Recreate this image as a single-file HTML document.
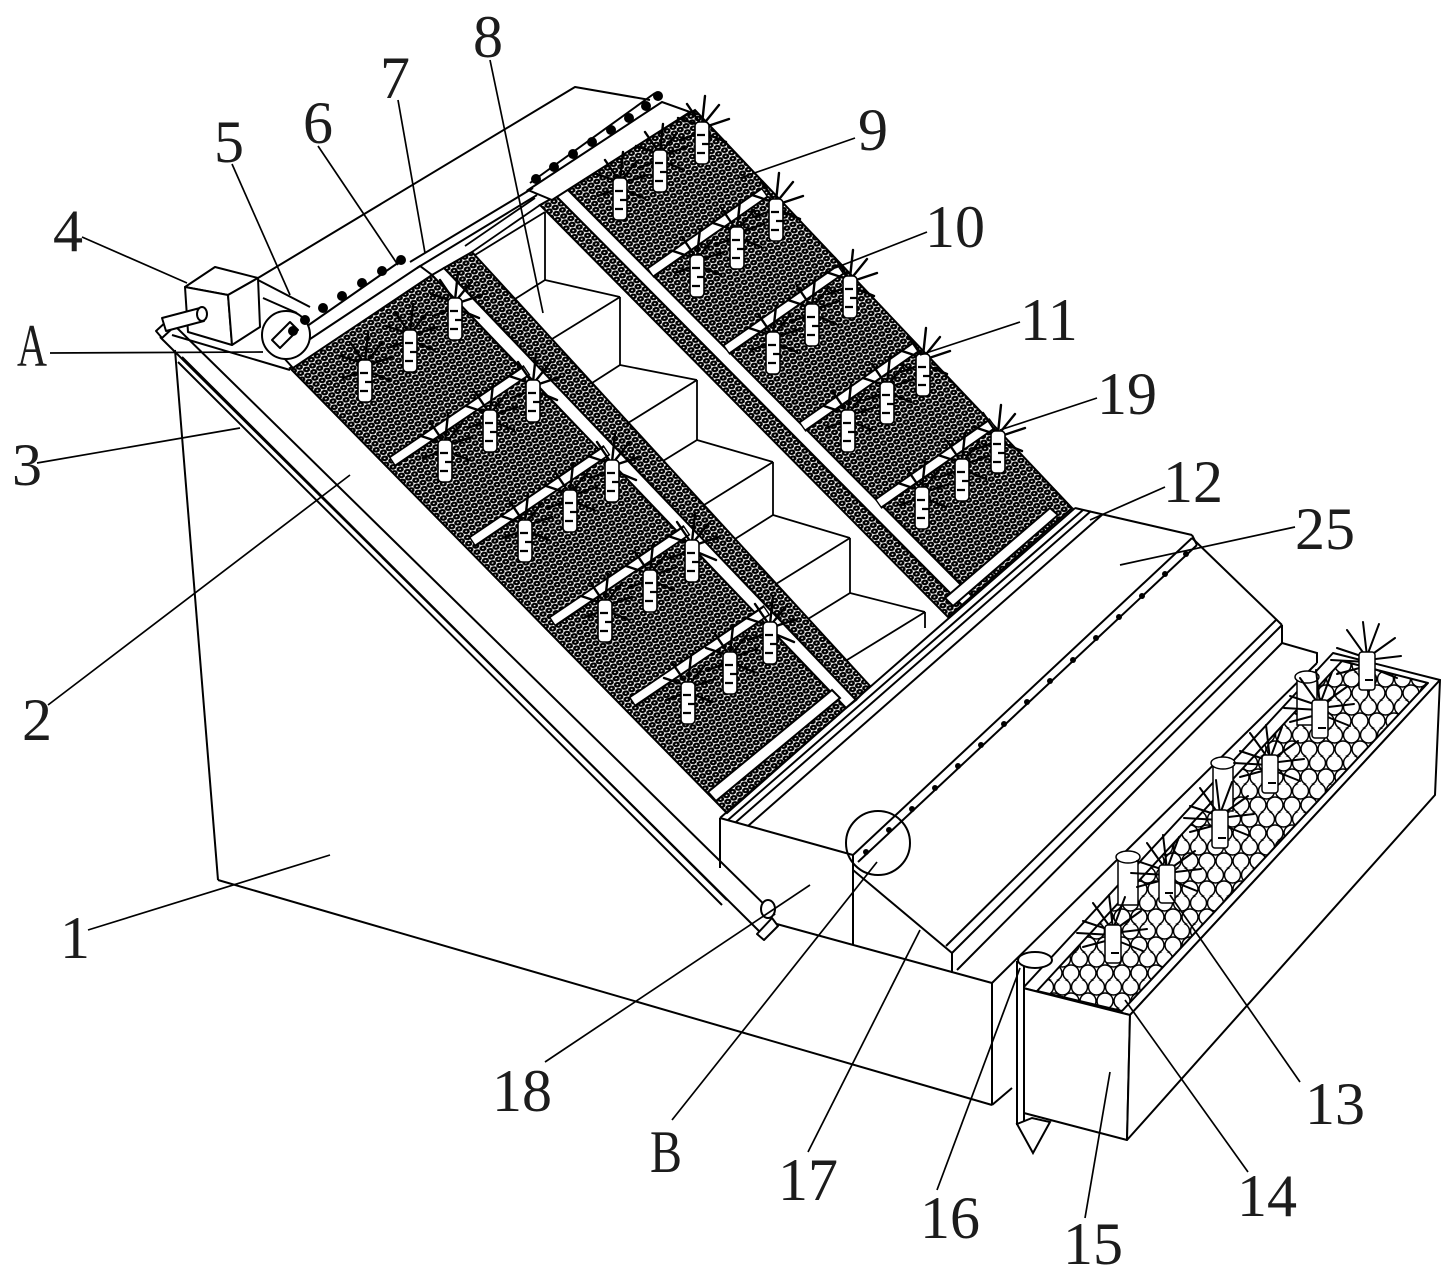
<!DOCTYPE html>
<html><head><meta charset="utf-8"><style>
html,body{margin:0;padding:0;background:#fff;}
svg{display:block;}
text{font-family:"Liberation Serif","DejaVu Serif",serif;font-size:60px;fill:#1c1c1c;}
</style></head><body>
<svg width="1451" height="1278" viewBox="0 0 1451 1278" xmlns="http://www.w3.org/2000/svg">
<defs>
<pattern id="gv" width="7" height="12" patternUnits="userSpaceOnUse" patternTransform="matrix(0.85,-0.53,0.7,0.71,0,0)">
<rect width="7" height="12" fill="#fff"/>
<ellipse cx="3.5" cy="3" rx="2.2" ry="1.9" fill="none" stroke="#000" stroke-width="2.4"/>
<ellipse cx="0" cy="9" rx="2.2" ry="1.9" fill="none" stroke="#000" stroke-width="2.4"/>
<ellipse cx="7" cy="9" rx="2.2" ry="1.9" fill="none" stroke="#000" stroke-width="2.4"/>
</pattern>
<pattern id="st" width="17" height="28" patternUnits="userSpaceOnUse">
<rect width="17" height="28" fill="#fff"/>
<circle cx="8.5" cy="7" r="8" fill="none" stroke="#000" stroke-width="1.5"/>
<circle cx="0" cy="21" r="8" fill="none" stroke="#000" stroke-width="1.5"/>
<circle cx="17" cy="21" r="8" fill="none" stroke="#000" stroke-width="1.5"/>
</pattern>
<g id="pl">
<path d="M0 4 L-24 -4 M0 4 L-15 -18 M0 2 L3 -26 M0 4 L17 -17 M0 6 L27 -3 M0 10 L-22 18 M0 10 L24 20" stroke="#000" stroke-width="2.4" stroke-linecap="round" fill="none"/>
<rect x="-7" y="0" width="14" height="42" rx="4" fill="#fff" stroke="#000" stroke-width="1.6"/>
<path d="M-5 13h8 M0 22h7 M-5 31h8" stroke="#000" stroke-width="2.2"/>
</g>
<g id="pp">
<path d="M0 6 L-30 -4 M0 6 L-20 -22 M0 4 L-4 -30 M0 4 L12 -28 M0 6 L28 -14 M0 8 L34 4 M0 14 L-30 22 M0 14 L30 26 M0 10 L-36 8" stroke="#000" stroke-width="2" stroke-linecap="round" fill="none"/>
<rect x="-8" y="0" width="16" height="38" rx="3" fill="#fff" stroke="#000" stroke-width="1.5"/>
<path d="M-2 28h8" stroke="#000" stroke-width="2"/>
</g>
<g id="pc">
<rect x="-10" y="0" width="20" height="48" fill="#fff" stroke="#000" stroke-width="1.5"/>
<ellipse cx="0" cy="0" rx="12" ry="6" fill="#fff" stroke="#000" stroke-width="1.5"/>
</g>
</defs>

<rect width="1451" height="1278" fill="#fff"/>

<g stroke="#000" stroke-width="2" fill="none" stroke-linejoin="round">
<line x1="175" y1="350" x2="218" y2="880"/>
<line x1="218" y1="880" x2="992" y2="1105"/>
<line x1="992" y1="983" x2="992" y2="1105"/>
<line x1="773" y1="923" x2="992" y2="983"/>
<line x1="992" y1="1105" x2="1012" y2="1088"/>
<line x1="992" y1="983" x2="1317" y2="663"/>
<line x1="172" y1="335" x2="290" y2="370"/>
<line x1="290" y1="368" x2="727" y2="813"/>
<line x1="178" y1="362" x2="722" y2="905"/>
<line x1="182" y1="357" x2="727" y2="900"/>
<line x1="160" y1="337" x2="760" y2="932"/>
<line x1="172" y1="323" x2="775" y2="915"/>
<polygon points="156,331 168,320 175,326 162,338" fill="#fff"/>
<polygon points="757,934 772,918 778,926 764,940" fill="#fff"/>
<ellipse cx="768" cy="909" rx="7" ry="9" fill="#fff"/>
<line x1="720" y1="818" x2="720" y2="868"/>
</g>

<g stroke="#000" stroke-width="2">
<polygon points="290,368 432,275 846,708 727,813" fill="url(#gv)"/>
<polygon points="444,268 472,252 870,686 856,700" fill="url(#gv)"/>
<polygon points="432,275 444,268 856,700 846,708" fill="#fff"/>
<polygon points="566,188 695,110 1072,508 972,596" fill="url(#gv)"/>
<polygon points="540,205 556,196 962,605 948,617" fill="url(#gv)"/>
<polygon points="556,196 566,188 972,596 962,605" fill="#fff"/>
<polygon points="283,357 420,266 432,275 293,368" fill="#fff"/>
<polygon points="528,190 662,102 690,112 552,200" fill="#fff"/>
<polygon points="708,792 832,690 840,698 716,801" fill="#fff"/>
<polygon points="945,598 1050,508 1058,515 953,606" fill="#fff"/>
</g>

<g stroke-linecap="butt">
<g stroke="#000" stroke-width="12">
<line x1="392" y1="462" x2="527" y2="370"/>
<line x1="472" y1="542" x2="607" y2="450"/>
<line x1="552" y1="622" x2="687" y2="530"/>
<line x1="632" y1="702" x2="767" y2="610"/>
<line x1="650" y1="273" x2="765" y2="192"/>
<line x1="726" y1="350" x2="841" y2="269"/>
<line x1="802" y1="427" x2="917" y2="346"/>
<line x1="878" y1="504" x2="993" y2="423"/>
</g>
<g stroke="#fff" stroke-width="8">
<line x1="393" y1="461" x2="526" y2="371"/>
<line x1="473" y1="541" x2="606" y2="451"/>
<line x1="553" y1="621" x2="686" y2="531"/>
<line x1="633" y1="701" x2="766" y2="611"/>
<line x1="651" y1="272" x2="764" y2="193"/>
<line x1="727" y1="349" x2="840" y2="270"/>
<line x1="803" y1="426" x2="916" y2="347"/>
<line x1="879" y1="503" x2="992" y2="424"/>
</g>
</g>

<g stroke="#000" stroke-width="1.8" fill="none">
<line x1="472" y1="252" x2="540" y2="205"/>
<line x1="465" y1="246" x2="535" y2="198"/>
<line x1="545" y1="212" x2="545" y2="280"/>
<line x1="620" y1="297" x2="620" y2="365"/>
<line x1="697" y1="380" x2="697" y2="440"/>
<line x1="773" y1="462" x2="773" y2="515"/>
<line x1="850" y1="538" x2="850" y2="593"/>
<line x1="925" y1="612" x2="925" y2="628"/>
<line x1="545" y1="280" x2="620" y2="297"/>
<line x1="620" y1="365" x2="697" y2="380"/>
<line x1="697" y1="440" x2="773" y2="462"/>
<line x1="773" y1="515" x2="850" y2="538"/>
<line x1="850" y1="593" x2="925" y2="612"/>
<line x1="545" y1="212" x2="475" y2="255"/>
<line x1="545" y1="280" x2="515" y2="299"/>
<line x1="620" y1="297" x2="552" y2="339"/>
<line x1="620" y1="365" x2="592" y2="383"/>
<line x1="697" y1="380" x2="628" y2="423"/>
<line x1="697" y1="440" x2="663" y2="461"/>
<line x1="773" y1="462" x2="704" y2="505"/>
<line x1="773" y1="515" x2="735" y2="539"/>
<line x1="850" y1="538" x2="776" y2="584"/>
<line x1="850" y1="593" x2="808" y2="619"/>
<line x1="925" y1="612" x2="847" y2="660"/>
</g>

<use href="#pl" x="365" y="360"/><use href="#pl" x="410" y="330"/><use href="#pl" x="455" y="298"/>
<use href="#pl" x="445" y="440"/><use href="#pl" x="490" y="410"/><use href="#pl" x="533" y="380"/>
<use href="#pl" x="525" y="520"/><use href="#pl" x="570" y="490"/><use href="#pl" x="612" y="460"/>
<use href="#pl" x="605" y="600"/><use href="#pl" x="650" y="570"/><use href="#pl" x="692" y="540"/>
<use href="#pl" x="688" y="682"/><use href="#pl" x="730" y="652"/><use href="#pl" x="770" y="622"/>
<use href="#pl" x="620" y="178"/><use href="#pl" x="660" y="150"/><use href="#pl" x="702" y="122"/>
<use href="#pl" x="697" y="255"/><use href="#pl" x="737" y="227"/><use href="#pl" x="776" y="199"/>
<use href="#pl" x="773" y="332"/><use href="#pl" x="812" y="304"/><use href="#pl" x="850" y="276"/>
<use href="#pl" x="848" y="410"/><use href="#pl" x="887" y="382"/><use href="#pl" x="923" y="354"/>
<use href="#pl" x="922" y="487"/><use href="#pl" x="962" y="459"/><use href="#pl" x="998" y="431"/>

<g stroke="#000" stroke-width="2" fill="none" stroke-linejoin="round">
<polyline points="258,278 575,87 650,100"/>
<line x1="410" y1="262" x2="533" y2="188"/>
<line x1="417" y1="268" x2="537" y2="195"/>
<line x1="290" y1="338" x2="405" y2="258"/>
<line x1="530" y1="183" x2="655" y2="93"/>
<polygon points="185,287 215,267 258,278 228,295" fill="#fff"/>
<polygon points="185,287 228,295 232,345 188,332" fill="#fff"/>
<polygon points="228,295 258,278 260,327 232,345" fill="#fff"/>
<polygon points="162,318 200,308 204,321 166,331" fill="#fff"/>
<ellipse cx="202" cy="314" rx="5" ry="7" fill="#fff"/>
<line x1="258" y1="280" x2="310" y2="307"/>
<line x1="263" y1="298" x2="297" y2="313"/>
<circle cx="286" cy="335" r="24" fill="#fff"/>
<polygon points="272,340 290,322 298,330 280,348" fill="#fff"/>
</g>
<g fill="#000">
<circle cx="293" cy="331" r="5"/>
<circle cx="305" cy="320" r="5"/><circle cx="323" cy="308" r="5"/><circle cx="342" cy="296" r="5"/><circle cx="362" cy="283" r="5"/><circle cx="382" cy="271" r="5"/><circle cx="401" cy="260" r="5"/>
<circle cx="536" cy="179" r="5"/><circle cx="554" cy="167" r="5"/><circle cx="573" cy="154" r="5"/><circle cx="592" cy="142" r="5"/><circle cx="611" cy="130" r="5"/><circle cx="629" cy="118" r="5"/><circle cx="646" cy="106" r="5"/><circle cx="658" cy="96" r="5"/>
</g>

<g stroke="#000" stroke-width="2" fill="none">
<line x1="720" y1="818" x2="1075" y2="508"/>
<line x1="728" y1="820" x2="1083" y2="510"/>
<line x1="736" y1="822" x2="1091" y2="511"/>
<line x1="748" y1="826" x2="1103" y2="514"/>
<line x1="1075" y1="508" x2="1192" y2="535"/>
<line x1="720" y1="818" x2="853" y2="855"/>
<line x1="853" y1="855" x2="1192" y2="538"/>
<line x1="858" y1="862" x2="1197" y2="545"/>
<line x1="1192" y1="535" x2="1197" y2="545"/>
<line x1="1192" y1="538" x2="1282" y2="625"/>
<line x1="853" y1="855" x2="853" y2="945"/>
<line x1="853" y1="870" x2="952" y2="953"/>
<line x1="952" y1="953" x2="952" y2="973"/>
<line x1="952" y1="953" x2="1282" y2="625"/>
<line x1="946" y1="946" x2="1277" y2="619"/>
<line x1="957" y1="970" x2="1282" y2="643"/>
<polyline points="1282,625 1282,643 1317,653 1317,663"/>
<circle cx="878" cy="843" r="32"/>
</g>
<g fill="#000">
<circle cx="866" cy="852" r="3"/><circle cx="889" cy="830" r="3"/><circle cx="912" cy="809" r="3"/><circle cx="935" cy="788" r="3"/><circle cx="958" cy="766" r="3"/><circle cx="981" cy="745" r="3"/><circle cx="1004" cy="724" r="3"/><circle cx="1027" cy="702" r="3"/><circle cx="1050" cy="681" r="3"/><circle cx="1073" cy="660" r="3"/><circle cx="1096" cy="638" r="3"/><circle cx="1119" cy="617" r="3"/><circle cx="1142" cy="596" r="3"/><circle cx="1165" cy="574" r="3"/><circle cx="1186" cy="554" r="3"/>
</g>

<g stroke="#000" stroke-width="2" fill="#fff" stroke-linejoin="round">
<polygon points="1023,988 1333,653 1440,680 1130,1015"/>
<polygon points="1037,991 1342,661 1428,683 1122,1011" fill="url(#st)"/>
<polygon points="1023,988 1130,1015 1127,1140 1020,1112"/>
<polygon points="1130,1015 1440,680 1435,795 1127,1140"/>
</g>
<use href="#pc" x="1307" y="677"/>
<use href="#pc" x="1223" y="763"/>
<use href="#pc" x="1128" y="857"/>
<use href="#pp" x="1367" y="652"/>
<use href="#pp" x="1320" y="700"/>
<use href="#pp" x="1270" y="755"/>
<use href="#pp" x="1220" y="810"/>
<use href="#pp" x="1167" y="865"/>
<use href="#pp" x="1113" y="925"/>
<g stroke="#000" stroke-width="2" fill="#fff">
<rect x="1017" y="962" width="7" height="162"/>
<polygon points="1017,1124 1032,1118 1050,1122 1033,1153"/>
<ellipse cx="1035" cy="960" rx="17" ry="8"/>
</g>

<g stroke="#000" stroke-width="1.7" fill="none">
<line x1="490" y1="60" x2="543" y2="313"/>
<line x1="398" y1="100" x2="425" y2="253"/>
<line x1="318" y1="146" x2="398" y2="265"/>
<line x1="232" y1="164" x2="290" y2="295"/>
<line x1="82" y1="237" x2="187" y2="283"/>
<line x1="50" y1="353" x2="263" y2="352"/>
<line x1="37" y1="463" x2="240" y2="428"/>
<line x1="48" y1="705" x2="350" y2="475"/>
<line x1="88" y1="930" x2="330" y2="855"/>
<line x1="855" y1="138" x2="740" y2="178"/>
<line x1="927" y1="232" x2="835" y2="268"/>
<line x1="1020" y1="322" x2="920" y2="355"/>
<line x1="1097" y1="398" x2="1000" y2="430"/>
<line x1="1165" y1="487" x2="1090" y2="520"/>
<line x1="1295" y1="527" x2="1120" y2="565"/>
<line x1="1300" y1="1082" x2="1170" y2="895"/>
<line x1="1248" y1="1172" x2="1125" y2="1000"/>
<line x1="1085" y1="1218" x2="1110" y2="1072"/>
<line x1="937" y1="1190" x2="1020" y2="968"/>
<line x1="808" y1="1152" x2="920" y2="930"/>
<line x1="672" y1="1120" x2="877" y2="862"/>
<line x1="545" y1="1062" x2="810" y2="885"/>
</g>

<text x="473" y="57">8</text>
<text x="380" y="98">7</text>
<text x="303" y="143">6</text>
<text x="214" y="162">5</text>
<text x="53" y="251">4</text>
<text x="17" y="366" textLength="30" lengthAdjust="spacingAndGlyphs">A</text>
<text x="12" y="485">3</text>
<text x="22" y="740">2</text>
<text x="60" y="958">1</text>
<text x="858" y="150">9</text>
<text x="925" y="247">10</text>
<text x="1020" y="340">11</text>
<text x="1097" y="414">19</text>
<text x="1163" y="502">12</text>
<text x="1295" y="549">25</text>
<text x="1305" y="1124">13</text>
<text x="1237" y="1216">14</text>
<text x="1063" y="1264">15</text>
<text x="920" y="1238">16</text>
<text x="778" y="1200">17</text>
<text x="650" y="1172" textLength="32" lengthAdjust="spacingAndGlyphs">B</text>
<text x="492" y="1111">18</text>
</svg>
</body></html>
